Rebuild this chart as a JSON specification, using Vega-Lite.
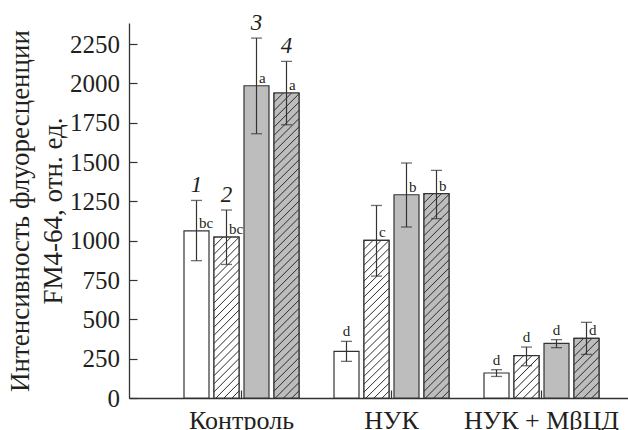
{
"$schema":"https://vega.github.io/schema/vega-lite/v6.json",
"width":499,"height":375,
"autosize":{"type":"none"},
"padding":{"left":129,"top":23,"right":0,"bottom":32},
"background":"white",
"config":{"view":{"stroke":null},"font":"Liberation Serif"},
"data":{"values":[
{"group":"Контроль","series":"1","mean":1063,"lo":873,"hi":1256,"label":"bc"},
{"group":"Контроль","series":"2","mean":1023,"lo":849,"hi":1195,"label":"bc"},
{"group":"Контроль","series":"3","mean":1985,"lo":1680,"hi":2288,"label":"a"},
{"group":"Контроль","series":"4","mean":1939,"lo":1737,"hi":2140,"label":"a"},
{"group":"НУК","series":"1","mean":296,"lo":233,"hi":360,"label":"d"},
{"group":"НУК","series":"2","mean":1002,"lo":775,"hi":1224,"label":"c"},
{"group":"НУК","series":"3","mean":1292,"lo":1087,"hi":1494,"label":"b"},
{"group":"НУК","series":"4","mean":1299,"lo":1140,"hi":1447,"label":"b"},
{"group":"НУК + МβЦД","series":"1","mean":159,"lo":137,"hi":180,"label":"d"},
{"group":"НУК + МβЦД","series":"2","mean":269,"lo":205,"hi":324,"label":"d"},
{"group":"НУК + МβЦД","series":"3","mean":347,"lo":320,"hi":371,"label":"d"},
{"group":"НУК + МβЦД","series":"4","mean":379,"lo":277,"hi":481,"label":"d"}
]},
"encoding":{
"x":{"field":"group","type":"nominal","sort":["Контроль","НУК","НУК + МβЦД"],
"scale":{"type":"band","paddingInner":0,"paddingOuter":0.16333,"align":0.7653},
"axis":{"title":null,"labelAngle":0,"labelFont":"Liberation Serif","labelFontSize":26,"labelColor":"#231f20","labelPadding":17.7,"labelBaseline":"top","tickSize":-8,"tickColor":"#333","tickWidth":1.2,"domainColor":"#333","domainWidth":1.3,"bandPosition":0.5}},
"xOffset":{"field":"series","type":"nominal","sort":["1","2","3","4"],"scale":{"domain":["1","2","3","4"],"paddingInner":0.16667,"paddingOuter":0.58333}}
},
"layer":[
{"mark":{"type":"bar","stroke":"#333","strokeWidth":1.2},
"encoding":{
"y":{"field":"mean","type":"quantitative","scale":{"domain":[0,2384],"nice":false},
"axis":{"values":[0,250,500,750,1000,1250,1500,1750,2000,2250],"format":"d","grid":false,"tickSize":-8,"tickColor":"#333","tickWidth":1.2,"domainColor":"#333","domainWidth":1.3,"labelFont":"Liberation Serif","labelFontSize":25,"labelColor":"#231f20","labelPadding":17.4,
"title":["Интенсивность флуоресценции","FM4-64, отн. ед."],"titleFont":"Liberation Serif","titleFontSize":27,"titleFontWeight":"normal","titleColor":"#231f20","titleLineHeight":33,"titleX":-109,"titleY":187.5,"titleAngle":-90,"titleBaseline":"middle","titleAlign":"center"}},
"fill":{"field":"series","type":"nominal","scale":{"domain":["1","2","3","4"],"range":["#ffffff","#ffffff","#bdbdbd","#bdbdbd"]},"legend":null}}},
{"transform":[{"filter":"datum.series == '2' && datum.group != 'НУК + МβЦД'"}],
"mark":{"type":"bar","stroke":"#333","strokeWidth":1.2,"fill":{"gradient":"linear","x1":0,"y1":0,"x2":0.177,"y2":1.129,"stops":[
{"offset":0,"color":"#fff"},{"offset":0.0057,"color":"#333"},{"offset":0.0113,"color":"#fff"},
{"offset":0.0435,"color":"#fff"},{"offset":0.0491,"color":"#333"},{"offset":0.0548,"color":"#fff"},
{"offset":0.0870,"color":"#fff"},{"offset":0.0926,"color":"#333"},{"offset":0.0983,"color":"#fff"},
{"offset":0.1304,"color":"#fff"},{"offset":0.1361,"color":"#333"},{"offset":0.1417,"color":"#fff"},
{"offset":0.1739,"color":"#fff"},{"offset":0.1796,"color":"#333"},{"offset":0.1852,"color":"#fff"},
{"offset":0.2174,"color":"#fff"},{"offset":0.2231,"color":"#333"},{"offset":0.2287,"color":"#fff"},
{"offset":0.2609,"color":"#fff"},{"offset":0.2665,"color":"#333"},{"offset":0.2722,"color":"#fff"},
{"offset":0.3043,"color":"#fff"},{"offset":0.3100,"color":"#333"},{"offset":0.3157,"color":"#fff"},
{"offset":0.3478,"color":"#fff"},{"offset":0.3535,"color":"#333"},{"offset":0.3591,"color":"#fff"},
{"offset":0.3913,"color":"#fff"},{"offset":0.3970,"color":"#333"},{"offset":0.4026,"color":"#fff"},
{"offset":0.4348,"color":"#fff"},{"offset":0.4404,"color":"#333"},{"offset":0.4461,"color":"#fff"},
{"offset":0.4783,"color":"#fff"},{"offset":0.4839,"color":"#333"},{"offset":0.4896,"color":"#fff"},
{"offset":0.5217,"color":"#fff"},{"offset":0.5274,"color":"#333"},{"offset":0.5330,"color":"#fff"},
{"offset":0.5652,"color":"#fff"},{"offset":0.5709,"color":"#333"},{"offset":0.5765,"color":"#fff"},
{"offset":0.6087,"color":"#fff"},{"offset":0.6143,"color":"#333"},{"offset":0.6200,"color":"#fff"},
{"offset":0.6522,"color":"#fff"},{"offset":0.6578,"color":"#333"},{"offset":0.6635,"color":"#fff"},
{"offset":0.6957,"color":"#fff"},{"offset":0.7013,"color":"#333"},{"offset":0.7070,"color":"#fff"},
{"offset":0.7391,"color":"#fff"},{"offset":0.7448,"color":"#333"},{"offset":0.7504,"color":"#fff"},
{"offset":0.7826,"color":"#fff"},{"offset":0.7883,"color":"#333"},{"offset":0.7939,"color":"#fff"},
{"offset":0.8261,"color":"#fff"},{"offset":0.8317,"color":"#333"},{"offset":0.8374,"color":"#fff"},
{"offset":0.8696,"color":"#fff"},{"offset":0.8752,"color":"#333"},{"offset":0.8809,"color":"#fff"},
{"offset":0.9130,"color":"#fff"},{"offset":0.9187,"color":"#333"},{"offset":0.9243,"color":"#fff"},
{"offset":0.9565,"color":"#fff"},{"offset":0.9622,"color":"#333"},{"offset":0.9678,"color":"#fff"}
]}},
"encoding":{"y":{"field":"mean","type":"quantitative"}}},
{"transform":[{"filter":"datum.series == '2' && datum.group == 'НУК + МβЦД'"}],
"mark":{"type":"bar","stroke":"#333","strokeWidth":1.2,"fill":{"gradient":"linear","x1":0,"y1":0,"x2":0.697,"y2":1.179,"stops":[
{"offset":0,"color":"#fff"},{"offset":0.0163,"color":"#333"},{"offset":0.0325,"color":"#fff"},
{"offset":0.125,"color":"#fff"},{"offset":0.1413,"color":"#333"},{"offset":0.1575,"color":"#fff"},
{"offset":0.25,"color":"#fff"},{"offset":0.2663,"color":"#333"},{"offset":0.2825,"color":"#fff"},
{"offset":0.375,"color":"#fff"},{"offset":0.3913,"color":"#333"},{"offset":0.4075,"color":"#fff"},
{"offset":0.5,"color":"#fff"},{"offset":0.5163,"color":"#333"},{"offset":0.5325,"color":"#fff"},
{"offset":0.625,"color":"#fff"},{"offset":0.6413,"color":"#333"},{"offset":0.6575,"color":"#fff"},
{"offset":0.75,"color":"#fff"},{"offset":0.7663,"color":"#333"},{"offset":0.7825,"color":"#fff"},
{"offset":0.875,"color":"#fff"},{"offset":0.8913,"color":"#333"},{"offset":0.9075,"color":"#fff"}
]}},
"encoding":{"y":{"field":"mean","type":"quantitative"}}},
{"transform":[{"filter":"datum.series == '4' && datum.group == 'Контроль'"}],
"mark":{"type":"bar","stroke":"#333","strokeWidth":1.2,"fill":{"gradient":"linear","x1":0,"y1":0,"x2":0.0881,"y2":1.0747,"stops":[
{"offset":0,"color":"#bdbdbd"},{"offset":0.0033,"color":"#333"},{"offset":0.0065,"color":"#bdbdbd"},
{"offset":0.025,"color":"#bdbdbd"},{"offset":0.0283,"color":"#333"},{"offset":0.0315,"color":"#bdbdbd"},
{"offset":0.05,"color":"#bdbdbd"},{"offset":0.0533,"color":"#333"},{"offset":0.0565,"color":"#bdbdbd"},
{"offset":0.075,"color":"#bdbdbd"},{"offset":0.0783,"color":"#333"},{"offset":0.0815,"color":"#bdbdbd"},
{"offset":0.1,"color":"#bdbdbd"},{"offset":0.1033,"color":"#333"},{"offset":0.1065,"color":"#bdbdbd"},
{"offset":0.125,"color":"#bdbdbd"},{"offset":0.1283,"color":"#333"},{"offset":0.1315,"color":"#bdbdbd"},
{"offset":0.15,"color":"#bdbdbd"},{"offset":0.1533,"color":"#333"},{"offset":0.1565,"color":"#bdbdbd"},
{"offset":0.175,"color":"#bdbdbd"},{"offset":0.1783,"color":"#333"},{"offset":0.1815,"color":"#bdbdbd"},
{"offset":0.2,"color":"#bdbdbd"},{"offset":0.2033,"color":"#333"},{"offset":0.2065,"color":"#bdbdbd"},
{"offset":0.225,"color":"#bdbdbd"},{"offset":0.2283,"color":"#333"},{"offset":0.2315,"color":"#bdbdbd"},
{"offset":0.25,"color":"#bdbdbd"},{"offset":0.2533,"color":"#333"},{"offset":0.2565,"color":"#bdbdbd"},
{"offset":0.275,"color":"#bdbdbd"},{"offset":0.2783,"color":"#333"},{"offset":0.2815,"color":"#bdbdbd"},
{"offset":0.3,"color":"#bdbdbd"},{"offset":0.3033,"color":"#333"},{"offset":0.3065,"color":"#bdbdbd"},
{"offset":0.325,"color":"#bdbdbd"},{"offset":0.3283,"color":"#333"},{"offset":0.3315,"color":"#bdbdbd"},
{"offset":0.35,"color":"#bdbdbd"},{"offset":0.3533,"color":"#333"},{"offset":0.3565,"color":"#bdbdbd"},
{"offset":0.375,"color":"#bdbdbd"},{"offset":0.3783,"color":"#333"},{"offset":0.3815,"color":"#bdbdbd"},
{"offset":0.4,"color":"#bdbdbd"},{"offset":0.4033,"color":"#333"},{"offset":0.4065,"color":"#bdbdbd"},
{"offset":0.425,"color":"#bdbdbd"},{"offset":0.4283,"color":"#333"},{"offset":0.4315,"color":"#bdbdbd"},
{"offset":0.45,"color":"#bdbdbd"},{"offset":0.4533,"color":"#333"},{"offset":0.4565,"color":"#bdbdbd"},
{"offset":0.475,"color":"#bdbdbd"},{"offset":0.4783,"color":"#333"},{"offset":0.4815,"color":"#bdbdbd"},
{"offset":0.5,"color":"#bdbdbd"},{"offset":0.5033,"color":"#333"},{"offset":0.5065,"color":"#bdbdbd"},
{"offset":0.525,"color":"#bdbdbd"},{"offset":0.5283,"color":"#333"},{"offset":0.5315,"color":"#bdbdbd"},
{"offset":0.55,"color":"#bdbdbd"},{"offset":0.5533,"color":"#333"},{"offset":0.5565,"color":"#bdbdbd"},
{"offset":0.575,"color":"#bdbdbd"},{"offset":0.5783,"color":"#333"},{"offset":0.5815,"color":"#bdbdbd"},
{"offset":0.6,"color":"#bdbdbd"},{"offset":0.6033,"color":"#333"},{"offset":0.6065,"color":"#bdbdbd"},
{"offset":0.625,"color":"#bdbdbd"},{"offset":0.6283,"color":"#333"},{"offset":0.6315,"color":"#bdbdbd"},
{"offset":0.65,"color":"#bdbdbd"},{"offset":0.6533,"color":"#333"},{"offset":0.6565,"color":"#bdbdbd"},
{"offset":0.675,"color":"#bdbdbd"},{"offset":0.6783,"color":"#333"},{"offset":0.6815,"color":"#bdbdbd"},
{"offset":0.7,"color":"#bdbdbd"},{"offset":0.7033,"color":"#333"},{"offset":0.7065,"color":"#bdbdbd"},
{"offset":0.725,"color":"#bdbdbd"},{"offset":0.7283,"color":"#333"},{"offset":0.7315,"color":"#bdbdbd"},
{"offset":0.75,"color":"#bdbdbd"},{"offset":0.7533,"color":"#333"},{"offset":0.7565,"color":"#bdbdbd"},
{"offset":0.775,"color":"#bdbdbd"},{"offset":0.7783,"color":"#333"},{"offset":0.7815,"color":"#bdbdbd"},
{"offset":0.8,"color":"#bdbdbd"},{"offset":0.8033,"color":"#333"},{"offset":0.8065,"color":"#bdbdbd"},
{"offset":0.825,"color":"#bdbdbd"},{"offset":0.8283,"color":"#333"},{"offset":0.8315,"color":"#bdbdbd"},
{"offset":0.85,"color":"#bdbdbd"},{"offset":0.8533,"color":"#333"},{"offset":0.8565,"color":"#bdbdbd"},
{"offset":0.875,"color":"#bdbdbd"},{"offset":0.8783,"color":"#333"},{"offset":0.8815,"color":"#bdbdbd"},
{"offset":0.9,"color":"#bdbdbd"},{"offset":0.9033,"color":"#333"},{"offset":0.9065,"color":"#bdbdbd"},
{"offset":0.925,"color":"#bdbdbd"},{"offset":0.9283,"color":"#333"},{"offset":0.9315,"color":"#bdbdbd"},
{"offset":0.95,"color":"#bdbdbd"},{"offset":0.9533,"color":"#333"},{"offset":0.9565,"color":"#bdbdbd"},
{"offset":0.975,"color":"#bdbdbd"},{"offset":0.9783,"color":"#333"},{"offset":0.9815,"color":"#bdbdbd"}
]}},
"encoding":{"y":{"field":"mean","type":"quantitative"}}},
{"transform":[{"filter":"datum.series == '4' && datum.group == 'НУК'"}],
"mark":{"type":"bar","stroke":"#333","strokeWidth":1.2,"fill":{"gradient":"linear","x1":0,"y1":0,"x2":0.1353,"y2":1.1058,"stops":[
{"offset":0,"color":"#bdbdbd"},{"offset":0.0046,"color":"#333"},{"offset":0.0093,"color":"#bdbdbd"},
{"offset":0.0357,"color":"#bdbdbd"},{"offset":0.0403,"color":"#333"},{"offset":0.0450,"color":"#bdbdbd"},
{"offset":0.0714,"color":"#bdbdbd"},{"offset":0.0760,"color":"#333"},{"offset":0.0807,"color":"#bdbdbd"},
{"offset":0.1071,"color":"#bdbdbd"},{"offset":0.1118,"color":"#333"},{"offset":0.1164,"color":"#bdbdbd"},
{"offset":0.1429,"color":"#bdbdbd"},{"offset":0.1475,"color":"#333"},{"offset":0.1521,"color":"#bdbdbd"},
{"offset":0.1786,"color":"#bdbdbd"},{"offset":0.1832,"color":"#333"},{"offset":0.1879,"color":"#bdbdbd"},
{"offset":0.2143,"color":"#bdbdbd"},{"offset":0.2189,"color":"#333"},{"offset":0.2236,"color":"#bdbdbd"},
{"offset":0.2500,"color":"#bdbdbd"},{"offset":0.2546,"color":"#333"},{"offset":0.2593,"color":"#bdbdbd"},
{"offset":0.2857,"color":"#bdbdbd"},{"offset":0.2903,"color":"#333"},{"offset":0.2950,"color":"#bdbdbd"},
{"offset":0.3214,"color":"#bdbdbd"},{"offset":0.3261,"color":"#333"},{"offset":0.3307,"color":"#bdbdbd"},
{"offset":0.3571,"color":"#bdbdbd"},{"offset":0.3618,"color":"#333"},{"offset":0.3664,"color":"#bdbdbd"},
{"offset":0.3929,"color":"#bdbdbd"},{"offset":0.3975,"color":"#333"},{"offset":0.4021,"color":"#bdbdbd"},
{"offset":0.4286,"color":"#bdbdbd"},{"offset":0.4332,"color":"#333"},{"offset":0.4379,"color":"#bdbdbd"},
{"offset":0.4643,"color":"#bdbdbd"},{"offset":0.4689,"color":"#333"},{"offset":0.4736,"color":"#bdbdbd"},
{"offset":0.5000,"color":"#bdbdbd"},{"offset":0.5046,"color":"#333"},{"offset":0.5093,"color":"#bdbdbd"},
{"offset":0.5357,"color":"#bdbdbd"},{"offset":0.5403,"color":"#333"},{"offset":0.5450,"color":"#bdbdbd"},
{"offset":0.5714,"color":"#bdbdbd"},{"offset":0.5760,"color":"#333"},{"offset":0.5807,"color":"#bdbdbd"},
{"offset":0.6071,"color":"#bdbdbd"},{"offset":0.6118,"color":"#333"},{"offset":0.6164,"color":"#bdbdbd"},
{"offset":0.6429,"color":"#bdbdbd"},{"offset":0.6475,"color":"#333"},{"offset":0.6521,"color":"#bdbdbd"},
{"offset":0.6786,"color":"#bdbdbd"},{"offset":0.6832,"color":"#333"},{"offset":0.6879,"color":"#bdbdbd"},
{"offset":0.7143,"color":"#bdbdbd"},{"offset":0.7189,"color":"#333"},{"offset":0.7236,"color":"#bdbdbd"},
{"offset":0.7500,"color":"#bdbdbd"},{"offset":0.7546,"color":"#333"},{"offset":0.7593,"color":"#bdbdbd"},
{"offset":0.7857,"color":"#bdbdbd"},{"offset":0.7903,"color":"#333"},{"offset":0.7950,"color":"#bdbdbd"},
{"offset":0.8214,"color":"#bdbdbd"},{"offset":0.8261,"color":"#333"},{"offset":0.8307,"color":"#bdbdbd"},
{"offset":0.8571,"color":"#bdbdbd"},{"offset":0.8618,"color":"#333"},{"offset":0.8664,"color":"#bdbdbd"},
{"offset":0.8929,"color":"#bdbdbd"},{"offset":0.8975,"color":"#333"},{"offset":0.9021,"color":"#bdbdbd"},
{"offset":0.9286,"color":"#bdbdbd"},{"offset":0.9332,"color":"#333"},{"offset":0.9379,"color":"#bdbdbd"},
{"offset":0.9643,"color":"#bdbdbd"},{"offset":0.9689,"color":"#333"},{"offset":0.9736,"color":"#bdbdbd"}
]}},
"encoding":{"y":{"field":"mean","type":"quantitative"}}},
{"transform":[{"filter":"datum.series == '4' && datum.group == 'НУК + МβЦД'"}],
"mark":{"type":"bar","stroke":"#333","strokeWidth":1.2,"fill":{"gradient":"linear","x1":0,"y1":0,"x2":0.5063,"y2":1.2071,"stops":[
{"offset":0,"color":"#bdbdbd"},{"offset":0.013,"color":"#333"},{"offset":0.026,"color":"#bdbdbd"},
{"offset":0.1,"color":"#bdbdbd"},{"offset":0.113,"color":"#333"},{"offset":0.126,"color":"#bdbdbd"},
{"offset":0.2,"color":"#bdbdbd"},{"offset":0.213,"color":"#333"},{"offset":0.226,"color":"#bdbdbd"},
{"offset":0.3,"color":"#bdbdbd"},{"offset":0.313,"color":"#333"},{"offset":0.326,"color":"#bdbdbd"},
{"offset":0.4,"color":"#bdbdbd"},{"offset":0.413,"color":"#333"},{"offset":0.426,"color":"#bdbdbd"},
{"offset":0.5,"color":"#bdbdbd"},{"offset":0.513,"color":"#333"},{"offset":0.526,"color":"#bdbdbd"},
{"offset":0.6,"color":"#bdbdbd"},{"offset":0.613,"color":"#333"},{"offset":0.626,"color":"#bdbdbd"},
{"offset":0.7,"color":"#bdbdbd"},{"offset":0.713,"color":"#333"},{"offset":0.726,"color":"#bdbdbd"},
{"offset":0.8,"color":"#bdbdbd"},{"offset":0.813,"color":"#333"},{"offset":0.826,"color":"#bdbdbd"},
{"offset":0.9,"color":"#bdbdbd"},{"offset":0.913,"color":"#333"},{"offset":0.926,"color":"#bdbdbd"}
]}},
"encoding":{"y":{"field":"mean","type":"quantitative"}}},
{"mark":{"type":"rule","color":"#333","strokeWidth":1.2},
"encoding":{"y":{"field":"lo","type":"quantitative"},"y2":{"field":"hi"}}},
{"mark":{"type":"tick","color":"#333","size":11,"thickness":1.3},
"encoding":{"y":{"field":"lo","type":"quantitative"}}},
{"mark":{"type":"tick","color":"#333","size":11,"thickness":1.3},
"encoding":{"y":{"field":"hi","type":"quantitative"}}},
{"transform":[{"filter":"datum.hi - datum.mean >= 80"}],
"mark":{"type":"text","align":"left","baseline":"alphabetic","dx":2.5,"dy":-3,"fontSize":15,"color":"#231f20","font":"Liberation Serif"},
"encoding":{"y":{"field":"mean","type":"quantitative"},"text":{"field":"label"}}},
{"transform":[{"filter":"datum.hi - datum.mean < 80"}],
"mark":{"type":"text","align":"center","baseline":"alphabetic","dy":-5,"fontSize":15,"color":"#231f20","font":"Liberation Serif"},
"encoding":{"y":{"field":"hi","type":"quantitative"},"text":{"field":"label"}}},
{"transform":[{"filter":"datum.group == 'Контроль'"}],
"mark":{"type":"text","align":"center","baseline":"alphabetic","dy":-8.5,"fontSize":23,"fontStyle":"italic","color":"#231f20","font":"Liberation Serif"},
"encoding":{"y":{"field":"hi","type":"quantitative"},"text":{"field":"series"}}}
]
}
